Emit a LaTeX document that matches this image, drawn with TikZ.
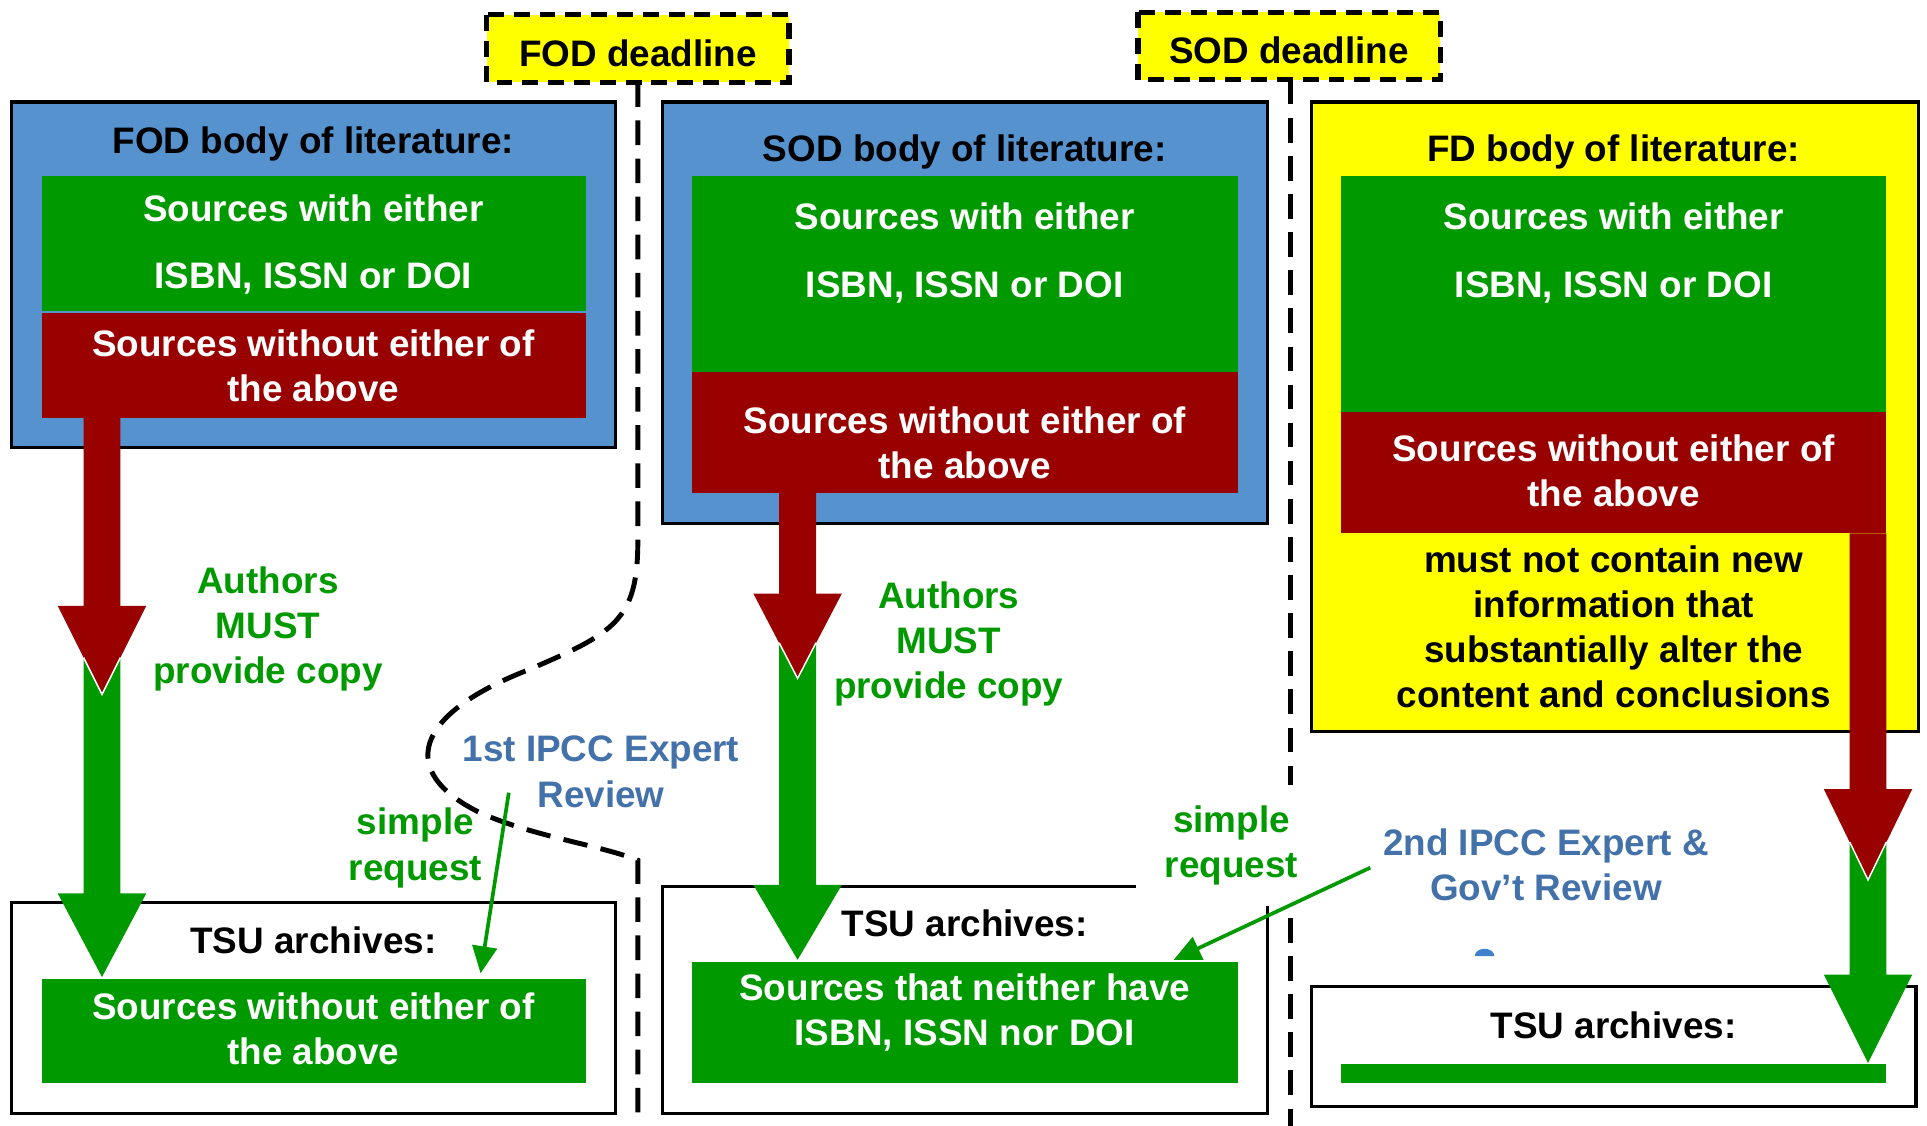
\documentclass[tikz,border=0pt]{standalone}
\usepackage{fontspec}
\setmainfont{Liberation Sans}
\usetikzlibrary{arrows.meta}
\definecolor{panelblue}{RGB}{85,146,206}
\definecolor{srcgreen}{RGB}{0,153,0}
\definecolor{srcred}{RGB}{153,0,0}
\definecolor{hlyellow}{RGB}{255,255,0}
\definecolor{revblue}{RGB}{67,113,170}
\definecolor{blobblue}{RGB}{62,128,204}
\begin{document}
\begin{tikzpicture}[x=1pt,y=-1pt,
  txt/.style={font=\fontsize{30}{36.7}\selectfont\bfseries, align=center, inner sep=0pt},
  widetxt/.style={font=\fontsize{30}{55}\selectfont\bfseries, align=center, inner sep=0pt},
  panel/.style={draw=black, line width=2.5pt},
  deadline/.style={draw=black, fill=hlyellow, line width=4.2pt, dash pattern=on 13pt off 8pt},
  sepline/.style={draw=black, line width=4pt, dash pattern=on 20pt off 11pt},
  thinarrow/.style={draw=srcgreen, line width=3pt, -{Triangle[length=22pt,width=20pt]}},
  tipline/.style={draw=white, line width=1.2pt},
]
\useasboundingbox (0,0) rectangle (1568,916);

% separating dashed lines
\draw[sepline] (519,67) -- (519,440) .. controls (519,505) and (500,515) .. (430,545)
   .. controls (335,582) and (325,628) .. (388,660)
   .. controls (430,680) and (490,688) .. (519,700) -- (519,916);
\draw[sepline] (1050,65) -- (1050,916);

% deadline boxes
\path[deadline] (396,12) rectangle (642,67);
\path[deadline] (926,10) rectangle (1172,65);

% FOD panel
\path[panel, fill=panelblue] (9,83) rectangle (501,364);
\fill[srcgreen] (34,143) rectangle (477,253);
\fill[srcred] (34,255) rectangle (477,340);

% SOD panel
\path[panel, fill=panelblue] (539,83) rectangle (1031,426);
\fill[srcgreen] (563,143) rectangle (1007,303);
\fill[srcred] (563,303) rectangle (1007,401);

% FD panel
\path[panel, fill=hlyellow] (1067,83) rectangle (1561,595);
\fill[srcgreen] (1091,143) rectangle (1535,335);
\fill[srcred] (1091,335) rectangle (1535,434);

% TSU boxes
\path[panel, fill=white] (9,734) rectangle (501,906);
\fill[srcgreen] (34,797) rectangle (477,881);
\path[panel, fill=white] (539,721) rectangle (1031,906);
\fill[srcgreen] (563,783) rectangle (1007,881);
\path[panel, fill=white] (1067,803) rectangle (1559,900);
\fill[srcgreen] (1091,866) rectangle (1535,881);

% white label covering corner
\node[txt, srcgreen, fill=white, minimum width=155pt, minimum height=98pt] (req2) at (1002,688) {simple\\request};

% big arrows: left
\fill[srcgreen] (68,528) -- (68,727) -- (47,727) -- (83,795) -- (119,727) -- (98,727) -- (98,528) -- cycle;
\fill[srcred] (68,340) -- (68,493) -- (47,493) -- (83,565) -- (119,493) -- (98,493) -- (98,340) -- cycle;
\draw[tipline] (68,535) -- (83,565) -- (98,535);
% middle
\fill[srcgreen] (634,518) -- (634,720) -- (613,720) -- (649,781) -- (685,720) -- (664,720) -- (664,518) -- cycle;
\fill[srcred] (634,401) -- (634,483) -- (613,483) -- (649,552) -- (685,483) -- (664,483) -- (664,401) -- cycle;
\draw[tipline] (634,523) -- (649,552) -- (664,523);
% right
\fill[srcgreen] (1505,680) -- (1505,793) -- (1484,793) -- (1520,865) -- (1556,793) -- (1535,793) -- (1535,680) -- cycle;
\fill[srcred] (1505,434) -- (1505,642) -- (1484,642) -- (1520,716) -- (1556,642) -- (1535,642) -- (1535,434) -- cycle;
\draw[tipline] (1505,685) -- (1520,716) -- (1535,685);

% texts
\node[txt] (foddl) at (519,43) {FOD deadline};
\node[txt] (soddl) at (1049,41) {SOD deadline};
\node[txt] (fodt) at (255,117) {FOD body of literature:};
\node[widetxt, white] (fodg) at (255,199) {Sources with either\\ISBN, ISSN or DOI};
\node[txt, white] (fodr) at (255,298) {Sources without either of\\the above};
\node[txt] (sodt) at (785,124) {SOD body of literature:};
\node[widetxt, white] (sodg) at (785,206) {Sources with either\\ISBN, ISSN or DOI};
\node[txt, white] (sodr) at (785,360) {Sources without either of\\the above};
\node[txt] (fdt) at (1313,124) {FD body of literature:};
\node[widetxt, white] (fdg) at (1313,206) {Sources with either\\ISBN, ISSN or DOI};
\node[txt, white] (fdr) at (1313,383) {Sources without either of\\the above};
\node[txt] (fdn) at (1313,510) {must not contain new\\information that\\substantially alter the\\content and conclusions};
\node[txt, srcgreen] (auth1) at (218,512) {Authors\\MUST\\provide copy};
\node[txt, srcgreen] (auth2) at (772,524) {Authors\\MUST\\provide copy};
\node[txt, revblue] (rev1) at (489,628) {1st IPCC Expert\\Review};
\node[txt, srcgreen] (req1) at (338,690) {simple\\request};
\node[txt, revblue] (rev2) at (1258,704) {2nd IPCC Expert \&\\Gov’t Review};
\node[txt] (tsu1) at (255,765) {TSU archives:};
\node[txt] (tsu2) at (785,751) {TSU archives:};
\node[txt] (tsu3) at (1313,834) {TSU archives:};
\node[txt, white] (tsu1g) at (255,837) {Sources without either of\\the above};
\node[txt, white] (tsu2g) at (785,824) {Sources that neither have\\ISBN, ISSN nor DOI};

% thin request arrows
\coordinate (r1s) at (414,645);
\coordinate (r1e) at (391,792);
\draw[thinarrow] (r1s) -- (r1e);
\coordinate (r2s) at (1115,706);
\coordinate (r2e) at (955,781);
\draw[thinarrow] (r2s) -- (r2e);

% small blue mark
\fill[blobblue] (1200,778) arc[start angle=180, end angle=360, x radius=8, y radius=6] -- cycle;
\end{tikzpicture}
\end{document}
